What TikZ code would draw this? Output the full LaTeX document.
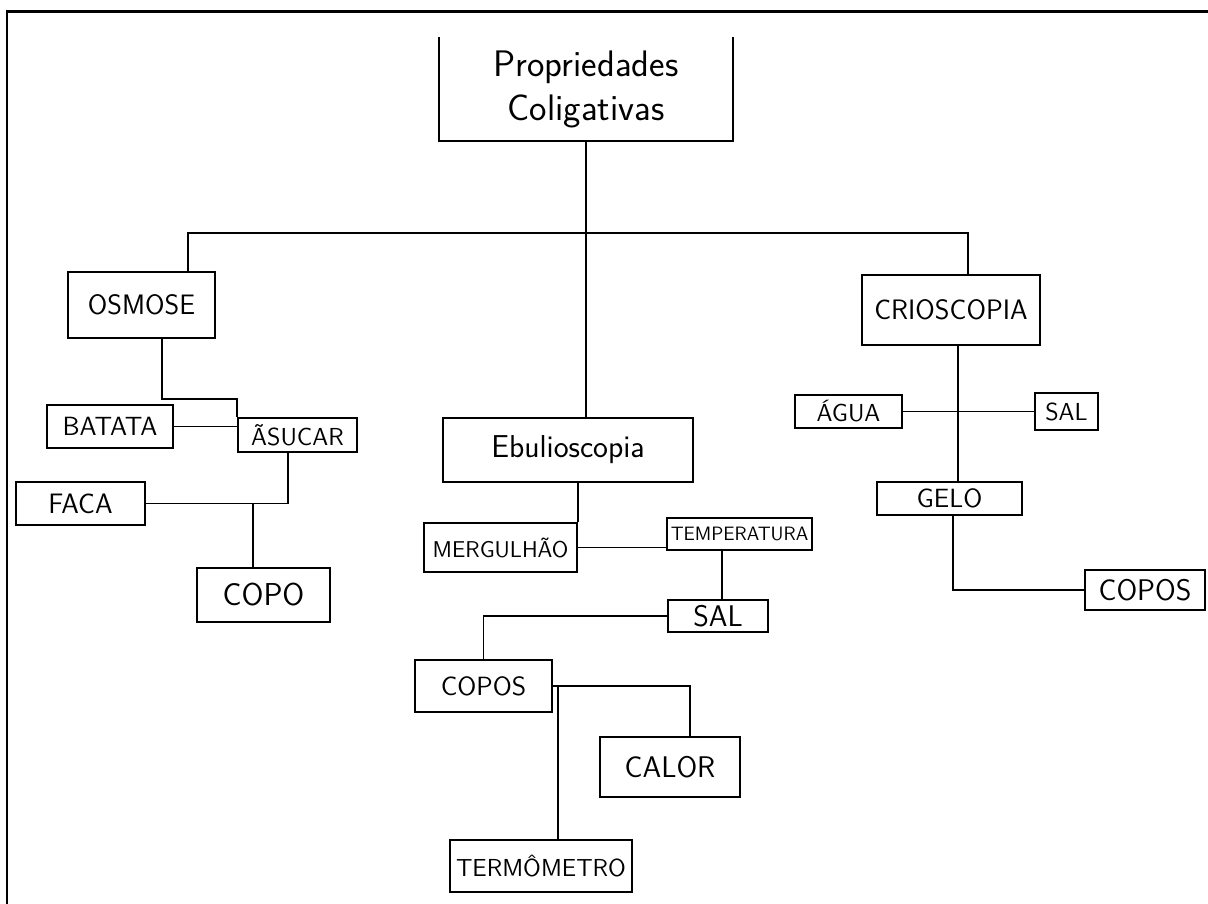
\documentclass[tikz,border=0pt]{standalone}
\usetikzlibrary{positioning,calc}

\begin{document}
\begin{tikzpicture}[line width=1pt,font=\sffamily,
 box/.style={draw,rectangle,inner sep=0pt,align=center,font=\sffamily\fontsize{14}{16}\selectfont},
 topic/.style={box,font=\sffamily\fontsize{16}{19}\selectfont}]
\useasboundingbox (0,0) rectangle (24.16,-18.08);
\draw[line width=1.7pt] (0.14,-18.08) -- (0.14,-0.24) -- (24.16,-0.24);
% root, open at the top
\node[inner sep=0pt,align=center,minimum width=5.84cm,minimum height=2.04cm,font=\sffamily\fontsize{21}{25}\selectfont] (root) at (11.72,-1.78) {Propriedades\\Coligativas};
\draw (root.north west) -- (root.south west) -- (root.south east) -- (root.north east);
\node[topic,minimum width=2.94cm,minimum height=1.32cm] (osmose) at (2.83,-6.10) {OSMOSE};
\node[topic,minimum width=3.56cm,minimum height=1.40cm] (crio) at (19.02,-6.20) {CRIOSCOPIA};
\node[topic,minimum width=5.00cm,minimum height=1.28cm,font=\sffamily\fontsize{18}{21}\selectfont] (ebul) at (11.36,-9.00) {Ebulioscopia};
\draw (root.south) -- (root.south |- ebul.north);
\coordinate (hub) at ($(root.south)+(0,-1.84)$);
\draw ([xshift=0.93cm]osmose.north) |- (hub) -| ([xshift=0.34cm]crio.north);
% osmose
\node[box,minimum width=2.52cm,minimum height=0.86cm,font=\sffamily\fontsize{15}{17}\selectfont] (batata) at (2.20,-8.53) {BATATA};
\node[box,minimum width=2.38cm,minimum height=0.68cm] (acucar) at (5.95,-8.70) {ÃSUCAR};
\node[box,minimum width=2.58cm,minimum height=0.86cm,font=\sffamily\fontsize{16}{18}\selectfont] (faca) at (1.61,-10.07) {FACA};
\node[box,minimum width=2.66cm,minimum height=1.08cm,font=\sffamily\fontsize{18}{20}\selectfont] (copo) at (5.27,-11.90) {COPO};
\draw ([xshift=0.41cm]osmose.south) -- ([xshift=0.41cm,yshift=0.1cm]osmose.south |- batata.north) -| ([yshift=0.1cm]acucar.north west) -- (acucar.north west);
\draw (batata.east) -- (batata.east -| acucar.west);
\draw ([xshift=-0.19cm]acucar.south) |- (faca.east);
\draw ([xshift=-0.21cm]copo.north) -- ([xshift=-0.21cm]copo.north |- faca.east);
% ebulioscopia
\node[box,minimum width=3.06cm,minimum height=0.98cm,font=\sffamily\fontsize{13}{15}\selectfont] (merg) at (10.01,-10.95) {MERGULHÃO};
\node[box,minimum width=2.90cm,minimum height=0.64cm,font=\sffamily\fontsize{11}{13}\selectfont] (temp) at (14.79,-10.68) {TEMPERATURA};
\node[box,minimum width=2.00cm,minimum height=0.64cm,font=\sffamily\fontsize{17}{19}\selectfont] (salm) at (14.36,-12.32) {SAL};
\node[box,minimum width=2.74cm,minimum height=1.04cm,font=\sffamily\fontsize{15}{17}\selectfont] (coposm) at (9.67,-13.72) {COPOS};
\node[box,minimum width=2.80cm,minimum height=1.20cm,font=\sffamily\fontsize{17}{19}\selectfont] (calor) at (13.40,-15.34) {CALOR};
\node[box,minimum width=3.64cm,minimum height=1.04cm] (termo) at (10.82,-17.32) {TERMÔMETRO};
\draw (ebul.south -| merg.north east) -- (merg.north east);
\draw (merg.east) -- (merg.east -| temp.west);
\draw ([xshift=-0.35cm]temp.south) -- ([xshift=-0.35cm]temp.south |- salm.north);
\draw (salm.west) -| (coposm.north);
\draw (coposm.east) -| ([xshift=0.4cm]calor.north);
\draw ([xshift=0.34cm]termo.north) -- ([xshift=0.34cm]termo.north |- coposm.east);
% crioscopia
\node[box,minimum width=2.14cm,minimum height=0.66cm] (agua) at (16.97,-8.23) {ÁGUA};
\node[box,minimum width=1.26cm,minimum height=0.74cm] (salc) at (21.33,-8.23) {SAL};
\node[box,minimum width=2.90cm,minimum height=0.66cm,font=\sffamily\fontsize{15}{17}\selectfont] (gelo) at (18.99,-9.97) {GELO};
\node[box,minimum width=2.40cm,minimum height=0.80cm,font=\sffamily\fontsize{17}{19}\selectfont] (coposc) at (22.90,-11.80) {COPOS};
\draw ([xshift=0.14cm]crio.south) -- ([xshift=0.14cm]crio.south |- gelo.north);
\draw (agua.east) -- (salc.west);
\draw ([xshift=0.07cm]gelo.south) |- (coposc.west);
\end{tikzpicture}
\end{document}
